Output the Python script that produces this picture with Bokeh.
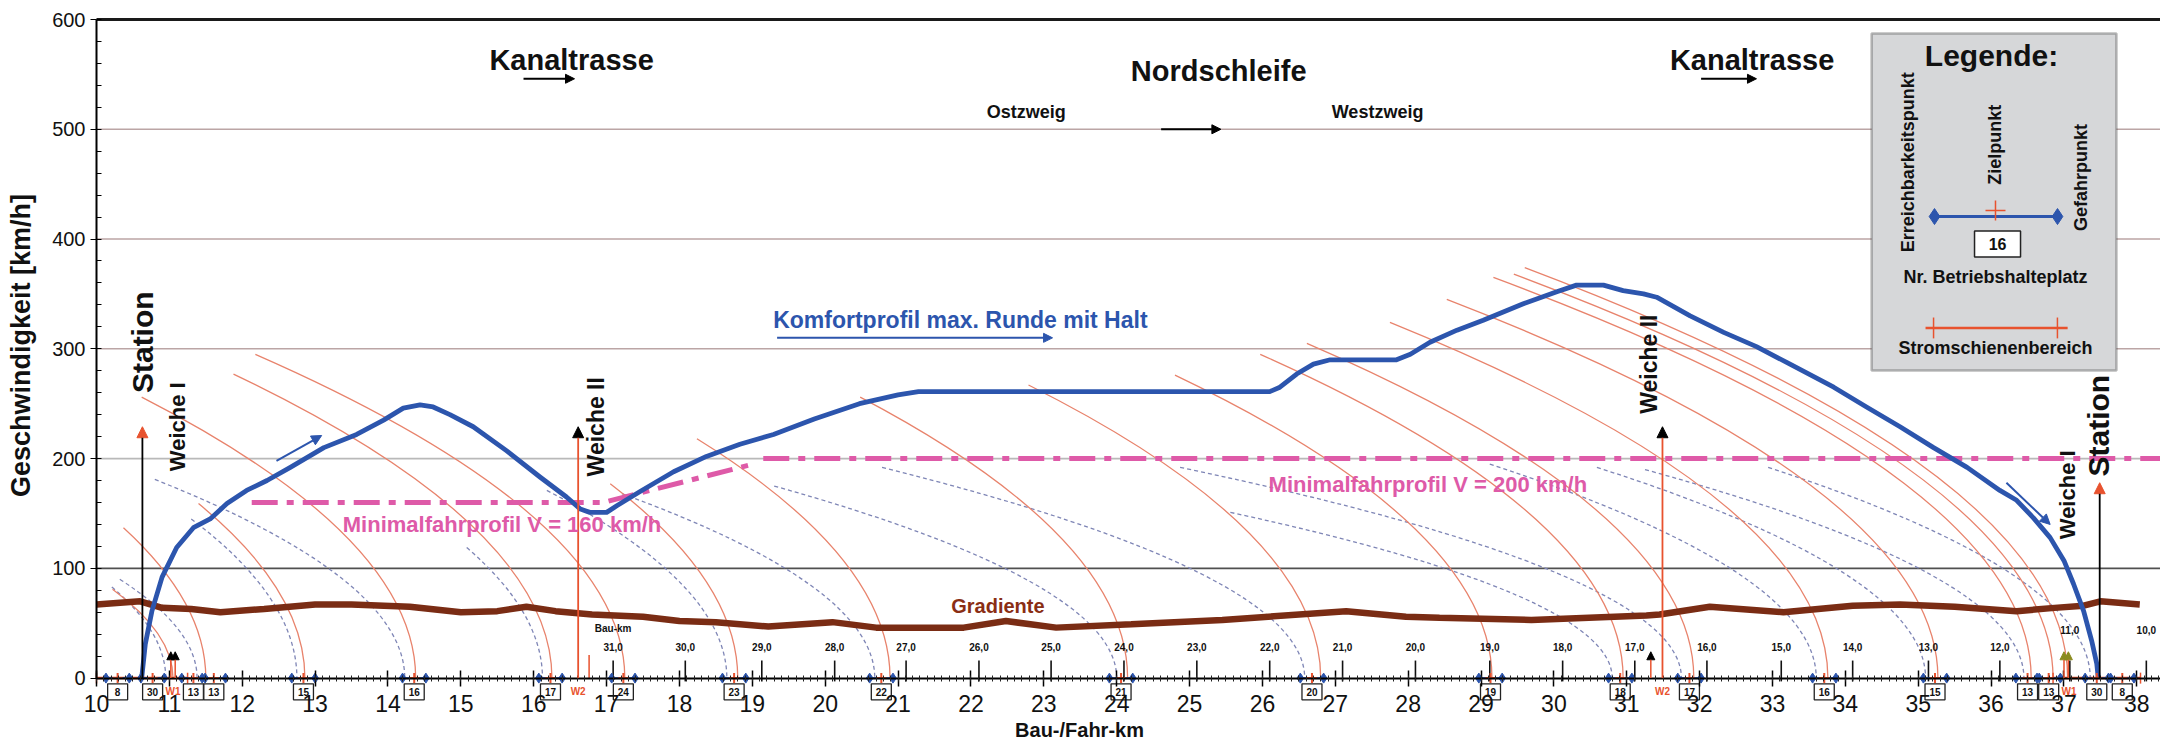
import math
from bokeh.plotting import figure
from bokeh.models import (Range1d, Label, Arrow, NormalHead, BoxAnnotation,
                          SingleIntervalTicker)
from bokeh.core.properties import value
from bokeh.embed import file_html
from bokeh.resources import INLINE

FONT = "Liberation Sans"

# ---------------------------------------------------------------- data
# Komfortprofil max. Runde mit Halt  (Fahr-km, km/h)
comfort_km = [10.62, 10.67, 10.76, 10.90, 11.10, 11.33, 11.56, 11.79, 12.06, 12.34,
              12.66, 13.12, 13.57, 13.94, 14.21, 14.44, 14.62, 14.85, 15.17, 15.63,
              16.09, 16.45, 16.64, 16.77, 17.00, 17.14, 17.46, 17.92, 18.37, 18.83,
              19.29, 19.85, 20.47, 21.00, 21.28, 26.10, 26.24, 26.47, 26.70, 26.93,
              27.84, 28.03, 28.30, 28.67, 29.03, 29.58, 30.04, 30.31, 30.68, 30.95,
              31.23, 31.41, 31.87, 32.33, 32.78, 33.24, 33.84, 34.29, 34.75, 35.21,
              35.67, 36.12, 36.35, 36.58, 36.81, 37.00, 37.13, 37.27, 37.38, 37.45,
              37.47]
comfort_v = [0, 31, 61, 92, 119, 137, 145, 159, 171, 180,
             192, 210, 222, 235, 246, 249, 247, 240, 229, 207,
             183, 165, 154, 151, 151, 157, 170, 188, 202, 213,
             222, 236, 250, 258, 261, 261, 265, 277, 286, 290,
             290, 295, 306, 317, 326, 341, 352, 358, 358, 353,
             350, 347, 330, 315, 302, 286, 265, 247, 229, 210,
             192, 171, 162, 146, 128, 107, 86, 61, 34, 13,
             0]

# Gradiente
grad_km = [10.0, 10.6, 10.9, 11.3, 11.7, 12.3, 13.0, 13.5, 14.3, 15.0, 15.5, 15.9,
           16.3, 16.8, 17.5, 18.0, 18.5, 19.22, 20.1, 20.7, 21.9, 22.48, 23.17, 24.2,
           25.45, 27.15, 27.97, 28.43, 29.69, 31.27, 31.45, 32.14, 33.15, 34.1, 34.75,
           35.5, 36.35, 36.87, 37.27, 37.5, 38.04]
grad_v = [67, 70, 64, 63, 60, 63, 67, 67, 65, 60, 61, 65,
          61, 58, 56, 52, 51, 47, 51, 46, 46, 52, 46, 49,
          53, 61, 56, 55, 53, 57, 58, 65, 60, 66, 67,
          65, 61, 64, 66, 70, 67]

# Minimalfahrprofil
min160_km = [12.13, 16.95, 18.95]
min160_v = [160, 160, 194]
min200_km = [19.15, 38.4]
min200_v = [200, 200]

# Betriebshalteplaetze (Zielpunkt km, Nr.)
stop_km = [10.29, 10.77, 11.33, 11.61, 12.84, 14.36, 16.23, 17.23, 18.75, 20.77, 24.06,
           26.68, 29.13, 30.91, 31.86, 33.71, 35.23, 36.50, 36.79, 37.45, 37.80]
stop_no = ["8", "30", "13", "13", "15", "16", "17", "24", "23", "22", "21",
           "20", "19", "18", "17", "16", "15", "13", "13", "30", "8"]

# Bremskurven Notbremsung: Beginn (km, km/h), Zielpunkt km
brake_top_km = [10.22, 10.37, 10.62, 11.40, 11.88, 12.18, 17.05, 18.24, 20.48, 22.79,
                24.80, 25.97, 26.61, 27.75, 28.53, 29.17, 29.45, 29.60]
brake_top_v = [81, 137, 256, 159, 277, 295, 177, 218, 256, 267,
               276, 295, 305, 324, 345, 365, 368, 374]
brake_end_km = [11.05, 11.50, 14.38, 12.86, 16.25, 17.25, 18.80, 20.89, 24.15, 26.80,
                29.15, 30.95, 31.92, 33.76, 35.27, 36.55, 36.85, 37.05]

# Bremskurven Betriebsbremsung
service_top_km = [10.21, 10.32, 10.80, 11.30, 15.08, 16.18, 17.21, 19.30, 20.78, 24.87,
                  25.56, 29.12, 30.59, 31.25, 32.94]
service_top_v = [83, 90, 181, 145, 119, 171, 168, 175, 192, 192,
                 151, 195, 192, 190, 192]
service_end_km = [10.95, 11.38, 14.23, 12.75, 16.12, 18.65, 20.68, 24.00, 26.58, 31.75,
                  30.80, 33.60, 35.10, 36.45, 37.36]

# Bau-km
bau_km_pos = [17.09, 18.08, 19.13, 20.13, 21.11, 22.11, 23.10, 24.10, 25.10, 26.10, 27.10,
              28.10, 29.12, 30.12, 31.11, 32.10, 33.12, 34.10, 35.14, 36.12, 37.08, 38.13]
bau_km_text = ["31,0", "30,0", "29,0", "28,0", "27,0", "26,0", "25,0", "24,0", "23,0",
               "22,0", "21,0", "20,0", "19,0", "18,0", "17,0", "16,0", "15,0", "14,0",
               "13,0", "12,0", "11,0", "10,0"]

# Weichen
switch_km = [11.05, 16.61, 31.49, 37.07]
switch_text = ["W1", "W2", "W2", "W1"]

# Stromschienenbereiche
rail_start_km = [10.0, 36.85]
rail_end_km = [11.25, 38.05]

# Signale
signal_km = [11.02, 11.08, 31.33, 37.00, 37.06]

y_ticks = [0, 100, 200, 300, 400, 500, 600]
X_START, X_END = 10, 38.324
Y_START, Y_END = 0, 600

# ---------------------------------------------------------------- colours
BLUE = "#2c55ad"
PINK = "#de5aa8"
BROWN = "#7a2c14"
RED = "#e8522e"
ARC_RED = "#e8836c"
ARC_DASH = "#7f86b6"

# The frame spans the whole canvas; both axes are pinned at (10 km, 0 km/h) so that
# the tick labels, the stop boxes and the axis titles all sit inside it.
PX_PER_KM = 72.87
PX_PER_KMH = 1.0977
W, H = 2160, 749
LEFT_PX, TOP_PX = 96, 19
x_lo = X_START - LEFT_PX / PX_PER_KM
x_hi = x_lo + W / PX_PER_KM
y_hi = Y_END + TOP_PX / PX_PER_KMH
y_lo = y_hi - H / PX_PER_KMH

p = figure(width=W, height=H, x_range=Range1d(x_lo, x_hi), y_range=Range1d(y_lo, y_hi),
           output_backend="svg", toolbar_location=None,
           min_border_left=0, min_border_right=0, min_border_top=0, min_border_bottom=0)
p.outline_line_color = None
p.grid.visible = False
p.background_fill_color = "white"
p.border_fill_color = "white"

# horizontal lines
grid_colors = ["#505050", "#b9b9b9", "#bba5a5", "#bba5a5", "#bba5a5"]
grid_y = y_ticks[1:-1]
p.segment(x0=[X_START] * len(grid_y), y0=grid_y, x1=[x_hi] * len(grid_y), y1=grid_y,
          line_color=grid_colors, line_width=1.6, level="underlay")
p.segment(x0=[X_START], y0=[Y_END], x1=[x_hi], y1=[Y_END], line_color="#1a1a1a",
          line_width=3, level="underlay")

# axes
xa = p.xaxis[0]
xa.ticker = SingleIntervalTicker(interval=1, num_minor_ticks=10)
xa.fixed_location = Y_START
xa.bounds = (X_START, x_hi)
xa.axis_line_width = 2
xa.axis_line_color = "black"
xa.major_tick_in = 8
xa.major_tick_out = 8
xa.major_tick_line_width = 1.5
xa.minor_tick_in = 3
xa.minor_tick_out = 3
xa.minor_tick_line_color = "#222"
xa.major_label_text_font = FONT
xa.major_label_text_font_size = "23px"
xa.major_label_text_color = "#111"
xa.major_label_standoff = 9

ya = p.yaxis[0]
ya.ticker = SingleIntervalTicker(interval=100, num_minor_ticks=5)
ya.fixed_location = X_START
ya.bounds = (Y_START, Y_END)
ya.axis_line_width = 2
ya.axis_line_color = "black"
ya.major_tick_in = 0
ya.major_tick_out = 6
ya.minor_tick_in = 5
ya.minor_tick_out = 0
ya.major_label_text_font = FONT
ya.major_label_text_font_size = "20px"
ya.major_label_text_color = "#111"
ya.major_label_standoff = 5

# braking curves (parabolas drawn as quadratic Bezier, vertex at the target point)
p.quadratic(x0=service_top_km, y0=service_top_v, x1=service_end_km, y1=[0] * len(service_end_km),
            cx=service_end_km, cy=[v / 2 for v in service_top_v],
            line_color=ARC_DASH, line_width=1.3, line_dash="4 3")
p.quadratic(x0=brake_top_km, y0=brake_top_v, x1=brake_end_km, y1=[0] * len(brake_end_km),
            cx=brake_end_km, cy=[v / 2 for v in brake_top_v],
            line_color=ARC_RED, line_width=1.3)

# Gradiente
p.line(grad_km, grad_v, line_color=BROWN, line_width=6.5)

# Minimalfahrprofil
p.line(min160_km, min160_v, line_color=PINK, line_width=5, line_dash="26 9 7 9")
p.line(min200_km, min200_v, line_color=PINK, line_width=5, line_dash="26 9 7 9")

# Komfortprofil
p.line(comfort_km, comfort_v, line_color=BLUE, line_width=4.8, line_join="round")

# Stromschienenbereiche along the axis
p.segment(x0=rail_start_km, y0=[0, 0], x1=rail_end_km, y1=[0, 0], line_color=RED, line_width=2.5)
p.segment(x0=rail_start_km + rail_end_km, y0=[-5] * 4, x1=rail_start_km + rail_end_km,
          y1=[5] * 4, line_color=RED, line_width=1.5)

# Bau-km ticks and labels
p.segment(x0=bau_km_pos, y0=[-3] * len(bau_km_pos), x1=bau_km_pos, y1=[16] * len(bau_km_pos),
          line_color="#111", line_width=1.6)
bau_y = [44 if t in ("11,0", "10,0") else 28 for t in bau_km_text]
p.text(x=bau_km_pos, y=bau_y, text=bau_km_text, text_font=value(FONT), text_font_size="10px",
       text_font_style="bold", text_align="center", text_baseline="middle", text_color="#111")
p.text(x=[bau_km_pos[0]], y=[45], text=["Bau-km"], text_font=value(FONT), text_font_size="10px",
       text_font_style="bold", text_align="center", text_baseline="middle", text_color="#111")

# small marker line near W2
p.segment(x0=[16.76], y0=[0], x1=[16.76], y1=[21], line_color=RED, line_width=1.5)

# Betriebshalteplaetze on the axis
p.segment(x0=[k - 0.16 for k in stop_km], y0=[0] * len(stop_km),
          x1=[k + 0.16 for k in stop_km], y1=[0] * len(stop_km), line_color=BLUE, line_width=2)
p.scatter([k - 0.16 for k in stop_km] + [k + 0.16 for k in stop_km], [0] * (2 * len(stop_km)),
          marker="diamond", size=10, fill_color=BLUE, line_color=BLUE)
p.scatter(stop_km, [0] * len(stop_km), marker="cross", size=10, line_color=RED, line_width=2)
p.rect(x=stop_km, y=[-12.5] * len(stop_km), width=20, height=16, width_units="screen",
       height_units="screen", fill_color="white", line_color="#222", line_width=1.3)
p.text(x=stop_km, y=[-12.5] * len(stop_km), text=stop_no, text_font=value(FONT),
       text_font_size="10px", text_font_style="bold", text_align="center",
       text_baseline="middle", text_color="#111")
p.text(x=switch_km, y=[-12] * len(switch_km), text=switch_text, text_font=value(FONT),
       text_font_size="10px", text_font_style="bold", text_align="center",
       text_baseline="middle", text_color=RED)

# signals
sig_colors = ["black", "black", "black", "#8a8a1e", "#8a8a1e"]
for k, c in zip(signal_km, sig_colors):
    p.add_layout(Arrow(end=NormalHead(size=8, fill_color=c, line_color=c), x_start=k, y_start=0,
                       x_end=k, y_end=24, line_color=RED, line_width=1.5))

# Station / Weiche markers
def vline_arrow(km, top, line_c, head_c):
    p.add_layout(Arrow(end=NormalHead(size=11, fill_color=head_c, line_color=head_c),
                       x_start=km, y_start=0, x_end=km, y_end=top,
                       line_color=line_c, line_width=1.8))

vline_arrow(10.63, 229, "black", RED)
vline_arrow(16.61, 229, RED, "black")
vline_arrow(31.49, 229, RED, "black")
vline_arrow(37.49, 178, "black", RED)

def label(x, y, text, size, color="#111", style="bold", angle=0.0, align="center",
          baseline="middle"):
    p.add_layout(Label(x=x, y=y, text=text, text_font=FONT, text_font_size=size,
                       text_font_style=style, text_color=color, angle=angle,
                       text_align=align, text_baseline=baseline))

up = math.pi / 2

# axis titles
label(X_START - 75.5 / PX_PER_KM, (Y_START + Y_END) / 2 + 3, "Geschwindigkeit [km/h]", "27px",
      angle=up)
label(23.49, -47.5, "Bau-/Fahr-km", "20px")

label(10.627, 306, "Station", "30px", angle=up)
label(11.11, 229, "Weiche I", "22px", angle=up)
label(16.86, 229, "Weiche II", "23px", angle=up)
label(31.31, 286, "Weiche II", "23px", angle=up)
label(37.05, 167, "Weiche I", "22px", angle=up)
label(37.47, 230, "Station", "30px", angle=up)

# section titles
label(16.52, 563, "Kanaltrasse", "29px")
label(25.40, 553, "Nordschleife", "29px")
label(32.72, 563, "Kanaltrasse", "29px")
label(22.76, 516, "Ostzweig", "18px")
label(27.58, 516, "Westzweig", "18px")
for xs, xe, yv in [(15.86, 16.56, 546), (24.61, 25.43, 500), (32.02, 32.78, 546)]:
    p.add_layout(Arrow(end=NormalHead(size=9, fill_color="black", line_color="black"),
                       x_start=xs, y_start=yv, x_end=xe, y_end=yv, line_color="black",
                       line_width=2))

# curve captions
label(21.855, 326, "Komfortprofil max. Runde mit Halt", "23px", color=BLUE)
p.add_layout(Arrow(end=NormalHead(size=9, fill_color=BLUE, line_color=BLUE),
                   x_start=19.34, y_start=310, x_end=23.12, y_end=310, line_color=BLUE,
                   line_width=2))
p.add_layout(Arrow(end=NormalHead(size=10, fill_color=BLUE, line_color=BLUE),
                   x_start=12.47, y_start=198, x_end=13.09, y_end=221, line_color=BLUE,
                   line_width=2))
p.add_layout(Arrow(end=NormalHead(size=10, fill_color=BLUE, line_color=BLUE),
                   x_start=36.21, y_start=178, x_end=36.81, y_end=140, line_color=BLUE,
                   line_width=2))
label(15.565, 140, "Minimalfahrprofil V = 160 km/h", "22px", color=PINK)
label(28.27, 176, "Minimalfahrprofil V = 200 km/h", "22px", color=PINK)
label(22.37, 66, "Gradiente", "20px", color="#8a2e14")

# legend panel
p.add_layout(BoxAnnotation(left=34.36, right=37.72, bottom=280.2, top=587.2,
                           fill_color="#d6d7d9", fill_alpha=1.0, line_color="#222",
                           line_width=2.5, level="annotation"))
label(36.005, 567, "Legende:", "30px")
label(34.866, 470, "Erreichbarkeitspunkt", "18px", angle=up)
label(36.06, 486, "Zielpunkt", "18px", angle=up)
label(37.227, 456, "Gefahrpunkt", "18px", angle=up)
r1 = p.segment(x0=[35.223], y0=[420.5], x1=[36.911], y1=[420.5], line_color=BLUE, line_width=3)
r2 = p.scatter([35.223, 36.911], [420.5, 420.5], marker="diamond", size=16,
               fill_color=BLUE, line_color=BLUE)
r3 = p.scatter([36.06], [426], marker="cross", size=20, line_color=RED, line_width=1.5)
r4 = p.rect(x=[36.088], y=[395.4], width=46, height=26, width_units="screen",
            height_units="screen", fill_color="white", line_color="#222", line_width=1.5)
r5 = p.text(x=[36.088], y=[395.4], text=["16"], text_font=value(FONT), text_font_size="16px",
            text_font_style="bold", text_align="center", text_baseline="middle",
            text_color="#111")
r6 = p.segment(x0=[35.10], y0=[319], x1=[37.05], y1=[319], line_color=RED, line_width=2.5)
r7 = p.segment(x0=[35.21, 36.91], y0=[309.5, 309.5], x1=[35.21, 36.91], y1=[328.5, 328.5],
               line_color=RED, line_width=1.5)
for r in (r1, r2, r3, r4, r5, r6, r7):
    r.level = "overlay"
label(36.06, 365, "Nr. Betriebshalteplatz", "18px")
label(36.06, 301, "Stromschienenbereich", "18px")

open("out.html", "w").write(file_html(p, INLINE))
